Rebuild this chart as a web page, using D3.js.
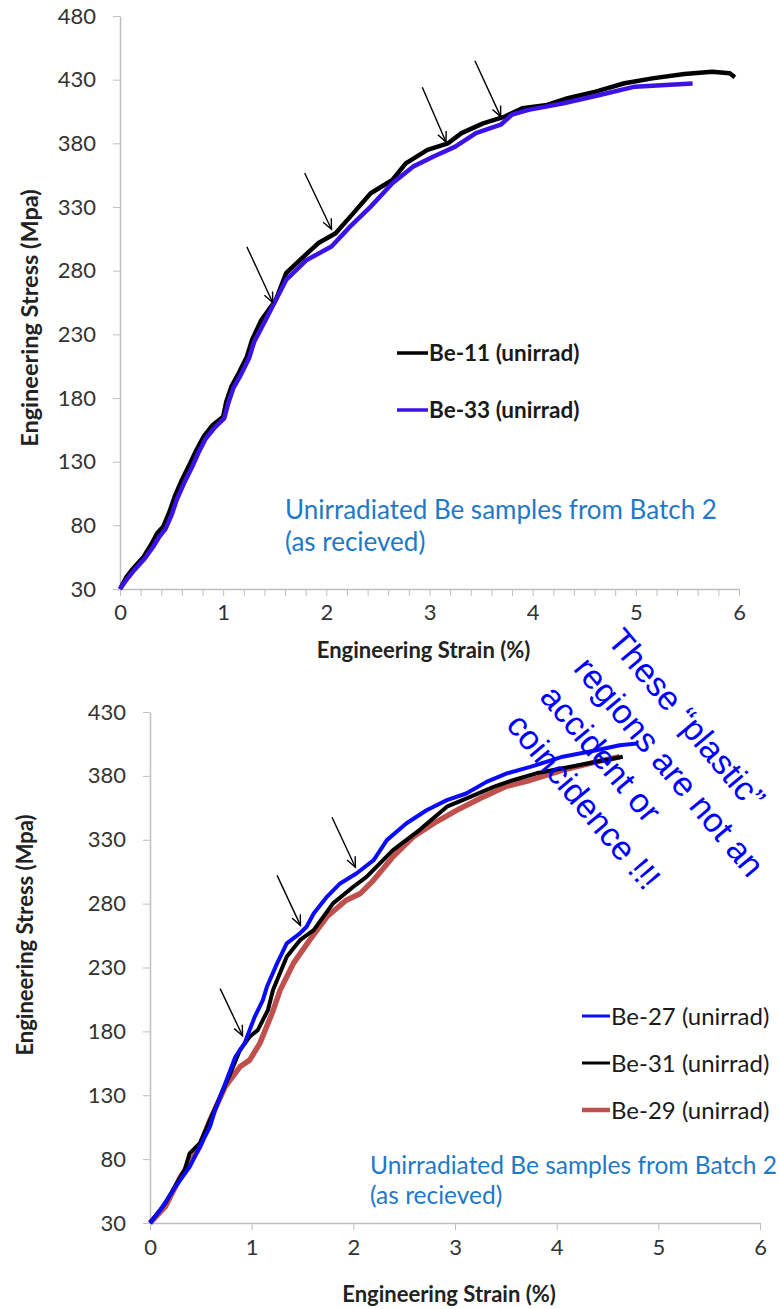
<!DOCTYPE html>
<html>
<head>
<meta charset="utf-8">
<script src="https://cdn.jsdelivr.net/npm/d3@7"></script>
<style>
  body { margin: 0; background: #fff; }
  svg { display: block; }
  .tick text { font-family: Lato, sans-serif; fill: #333; }
  .axis path, .axis line { stroke: #bfbfbf; }
</style>
</head>
<body>
<svg width="779" height="1309"></svg>
<script>
// ---- data: [strain %, stress MPa] ----
var be11 = [[0,30],[0.065,39.7],[0.13,46.3],[0.23,55.4],[0.31,65.9],[0.36,73.7],[0.42,79],[0.48,90.7],
  [0.53,102.5],[0.6,115.6],[0.68,128.7],[0.74,139],[0.81,149.6],[0.9,158.8],[1.0,165.3],[1.03,177],
  [1.08,188.9],[1.15,199.4],[1.23,212.4],[1.28,225.6],[1.37,241.3],[1.51,257],[1.61,278],[1.71,285.8],
  [1.92,301.5],[2.09,309.4],[2.26,325],[2.43,340.8],[2.64,351.2],[2.77,364.3],[2.98,374.8],[3.18,380],
  [3.31,388],[3.52,395.7],[3.73,401],[3.9,407.6],[4.14,410.1],[4.34,415.4],[4.61,420.6],[4.89,427.2],
  [5.16,431],[5.47,434.5],[5.74,436.3],[5.91,435],[5.96,431.9]];
var be33 = [[0,30],[0.07,38],[0.14,45],[0.24,54],[0.32,63],[0.38,71],[0.44,77],[0.5,88],[0.55,100],
  [0.62,113],[0.7,126],[0.76,137],[0.83,148],[0.92,157],[1.01,164],[1.05,176],[1.1,188],[1.17,198],
  [1.25,211],[1.3,224],[1.41,241],[1.61,272.7],[1.81,288.4],[2.05,299],[2.23,314.6],[2.43,330.3],
  [2.64,348.6],[2.84,361.7],[3.04,369.6],[3.25,377.4],[3.45,388],[3.69,394.6],[3.8,402.5],[3.96,406.3],
  [4.3,411.5],[4.65,418],[4.99,424.5],[5.55,427]];
var be27 = [[0,30],[0.1,40],[0.25,58.4],[0.39,74],[0.49,89.7],[0.59,105.4],[0.64,118.4],[0.74,139.3],
  [0.84,160.1],[0.93,170.6],[1.03,191.4],[1.11,204.5],[1.15,214.9],[1.25,233.2],[1.345,248.9],
  [1.475,256.7],[1.54,261.9],[1.61,272.3],[1.74,285.3],[1.87,295.8],[2.03,303.6],[2.2,314],[2.33,329.7],
  [2.52,342.7],[2.72,353.1],[2.92,361],[3.11,366.2],[3.31,375.3],[3.51,381.9],[3.74,387],[4.06,395],
  [4.39,400],[4.62,404],[4.79,405.4]];
var be31 = [[0,30],[0.15,45.4],[0.34,71.5],[0.39,84.5],[0.49,92.4],[0.59,110.6],[0.69,128.8],[0.79,147.1],
  [0.885,165.4],[0.98,175.8],[1.06,181],[1.16,196.7],[1.21,212.3],[1.345,238.4],[1.475,251.4],
  [1.61,259.3],[1.8,280.2],[2.0,293.2],[2.13,301],[2.39,321.9],[2.65,337.6],[2.92,355.9],[3.15,363.6],
  [3.38,371.4],[3.57,376.6],[3.8,382],[4.06,386],[4.39,391],[4.65,395]];
var be29 = [[0,30],[0.15,42.8],[0.3,66.2],[0.39,76.7],[0.49,89.7],[0.59,110.6],[0.74,136.7],[0.885,152.3],
  [0.98,157.5],[1.08,170.6],[1.2,194],[1.28,212.3],[1.41,233.2],[1.57,251.4],[1.74,269.7],[1.93,282.7],
  [2.07,288],[2.2,298.4],[2.39,316.7],[2.59,332.3],[2.79,342.8],[3.02,353.2],[3.25,362.5],[3.51,372],
  [3.74,376.6],[4.06,384.5],[4.39,391],[4.62,395]];

// arrows: [fromStrain, fromStress, toStrain, toStress]
var topArrows = [[1.23,298.7,1.48,255],[1.79,356.7,2.05,312.5],[2.93,424,3.16,381],[3.44,444.8,3.69,401]];
var botArrows = [[0.69,213.5,0.91,176.6],[1.25,302.1,1.48,263],[1.79,347.6,2.02,308.5]];

var topYTicks = [30,80,130,180,230,280,330,380,430,480];
var botYTicks = [30,80,130,180,230,280,330,380,430];
var xTicks = [0,1,2,3,4,5,6];

var topSeries = [
  {name: "Be-11 (unirrad)", data: be11, color: "#000000", width: 4.5},
  {name: "Be-33 (unirrad)", data: be33, color: "#3d12e6", width: 4.5}
];
var botSeries = [
  {name: "Be-29 (unirrad)", data: be29, color: "#c0504d", width: 5.5},
  {name: "Be-31 (unirrad)", data: be31, color: "#000000", width: 4},
  {name: "Be-27 (unirrad)", data: be27, color: "#0a0aff", width: 4}
];
var note = ["Unirradiated Be samples from Batch 2", "(as recieved)"];
var claim = ["These \u201cplastic\u201d", "regions are not an", "accident or", "coincidence !!!"];

var svg = d3.select("svg");
svg.append("rect").attr("width", 779).attr("height", 1309).attr("fill", "#fff");

svg.append("defs").append("marker")
  .attr("id", "head")
  .attr("markerUnits", "userSpaceOnUse")
  .attr("viewBox", "-12 -6 14 12")
  .attr("markerWidth", 14).attr("markerHeight", 12)
  .attr("refX", 0).attr("refY", 0)
  .attr("orient", "auto")
  .append("path")
  .attr("d", "M-10,-4.5L0,0L-10,4.5")
  .attr("fill", "none").attr("stroke", "#000").attr("stroke-width", 1.4);

function panel(opt) {
  var x = d3.scaleLinear().domain([0, 6]).range(opt.xr);
  var y = d3.scaleLinear().domain(opt.yd).range(opt.yr);
  var g = svg.append("g");

  // x axis (minor ticks on the top panel)
  var xa = g.append("g").attr("class", "axis")
    .attr("transform", "translate(0," + opt.yr[0] + ")")
    .call(d3.axisBottom(x).tickValues(opt.xMinor || xTicks).tickSize(7).tickSizeOuter(0)
      .tickFormat(function (d) { return xTicks.indexOf(+d.toFixed(3)) >= 0 ? d3.format("d")(d) : ""; }));
  xa.selectAll("path").attr("stroke-width", 1.5);
  xa.selectAll("text").attr("font-size", 22).attr("dy", opt.xLabDy);

  var ya = g.append("g").attr("class", "axis")
    .attr("transform", "translate(" + opt.xr[0] + ",0)")
    .call(d3.axisLeft(y).tickValues(opt.yTicks).tickSize(7).tickSizeOuter(0).tickPadding(17));
  ya.selectAll("path").attr("stroke-width", 1.5);
  ya.selectAll("text").attr("font-size", 22);

  // titles
  g.append("text")
    .attr("x", (opt.xr[0] + opt.xr[1]) / 2 - 6).attr("y", opt.xTitleY)
    .attr("text-anchor", "middle").attr("font-family", "Lato, sans-serif")
    .attr("font-weight", "bold").attr("font-size", opt.titleSize).attr("fill", "#222")
    .text("Engineering Strain (%)");
  g.append("text")
    .attr("transform", "translate(" + opt.yTitleX + "," + opt.yTitleY + ") rotate(-90)")
    .attr("text-anchor", "middle").attr("font-family", "Lato, sans-serif")
    .attr("font-weight", "bold").attr("font-size", opt.yTitleSize).attr("fill", "#222")
    .text("Engineering Stress (Mpa)");

  var line = d3.line()
    .x(function (d) { return x(d[0]); })
    .y(function (d) { return y(d[1]); });

  g.selectAll(".series").data(opt.series).enter().append("path")
    .attr("d", function (d) { return line(d.data); })
    .attr("fill", "none")
    .attr("stroke", function (d) { return d.color; })
    .attr("stroke-width", function (d) { return d.width; })
    .attr("stroke-linejoin", "round");

  g.selectAll(".arrow").data(opt.arrows).enter().append("line")
    .attr("x1", function (d) { return x(d[0]); })
    .attr("y1", function (d) { return y(d[1]); })
    .attr("x2", function (d) { return x(d[2]); })
    .attr("y2", function (d) { return y(d[3]); })
    .attr("stroke", "#000").attr("stroke-width", 1.4)
    .attr("marker-end", "url(#head)");

  // legend
  var lg = g.append("g");
  opt.legend.forEach(function (s, i) {
    var cy = opt.legY + i * opt.legStep;
    lg.append("line").attr("x1", opt.legX).attr("x2", opt.legX + opt.legLen)
      .attr("y1", cy).attr("y2", cy)
      .attr("stroke", s.color).attr("stroke-width", s.width - 1);
    lg.append("text").attr("x", opt.legX + opt.legLen + 1).attr("y", cy).attr("dy", "0.36em")
      .attr("font-family", "Lato, sans-serif").attr("font-size", opt.legSize)
      .attr("font-weight", opt.legBold ? "bold" : "normal").attr("fill", "#1a1a1a")
      .text(s.name);
  });

  g.selectAll(".note").data(note).enter().append("text")
    .attr("x", opt.noteX).attr("y", function (d, i) { return opt.noteY + i * opt.noteStep; })
    .attr("dy", "0.36em")
    .attr("font-family", "Lato, sans-serif").attr("font-size", opt.noteSize)
    .attr("fill", "#1f78c8")
    .text(function (d) { return d; });
}

panel({
  xr: [120, 739], yd: [30, 480], yr: [589, 16], yTicks: topYTicks,
  xMinor: d3.range(0, 30.5).map(function (i) { return i * 0.2; }),
  xLabDy: "0.95em", xTitleY: 658, yTitleX: 38, yTitleY: 318, titleSize: 22, yTitleSize: 23.5,
  series: topSeries, arrows: topArrows,
  legend: topSeries, legX: 397, legLen: 31, legY: 353, legStep: 57, legSize: 22.5, legBold: true,
  noteX: 285, noteY: 510, noteStep: 32, noteSize: 26
});

panel({
  xr: [150, 760], yd: [30, 430], yr: [1223, 712], yTicks: botYTicks,
  xLabDy: "1.0em", xTitleY: 1302, yTitleX: 33, yTitleY: 935, titleSize: 22, yTitleSize: 22,
  series: botSeries, arrows: botArrows,
  legend: [botSeries[2], botSeries[1], botSeries[0]], legX: 582, legLen: 28, legY: 1016, legStep: 47,
  legSize: 24, legBold: false,
  noteX: 370, noteY: 1165, noteStep: 30, noteSize: 24.5
});

// rotated blue remark
svg.append("g")
  .attr("transform", "translate(606,641) rotate(50)")
  .selectAll("text").data(claim).enter().append("text")
  .attr("x", 0).attr("y", function (d, i) { return i * 44; })
  .attr("font-family", "Liberation Sans, Arial, sans-serif")
  .attr("font-size", 34).attr("fill", "#0000ff")
  .text(function (d) { return d; });
</script>
</body>
</html>
